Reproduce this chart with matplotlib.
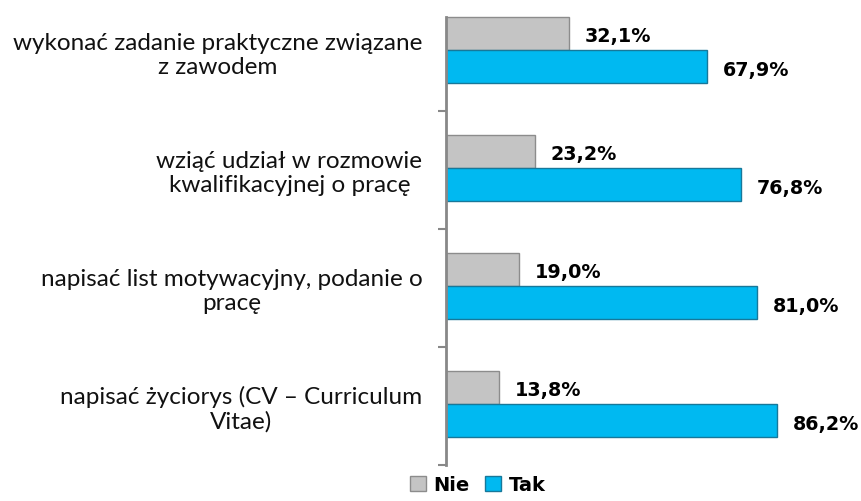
import matplotlib.pyplot as plt
import numpy as np

kategorie = [
    "wykonać zadanie praktyczne związane\nz zawodem",
    "wziąć udział w rozmowie\nkwalifikacyjnej o pracę",
    "napisać list motywacyjny, podanie o\npracę",
    "napisać życiorys (CV – Curriculum\nVitae)",
]
nie = [32.1, 23.2, 19.0, 13.8]
tak = [67.9, 76.8, 81.0, 86.2]

plt.rcParams['font.family'] = ['Lato', 'DejaVu Sans']

fig = plt.figure(figsize=(8.61, 5.01), dpi=100)
ax = fig.add_axes([446 / 861, 36 / 501, 384 / 861, 472 / 501])

y = np.arange(len(kategorie))
h = 0.28
b1 = ax.barh(y - 0.16, nie, height=h, color='#c4c4c4', edgecolor='#8c8c8c', linewidth=1, label='Nie')
b2 = ax.barh(y + 0.125, tak, height=h, color='#00b9f1', edgecolor='#17789a', linewidth=1, label='Tak')

for yy, v in zip(y, nie):
    ax.text(v + 4.1, yy - 0.13, f"{v:.1f}%".replace('.', ','), va='center', ha='left',
            fontsize=13.8, fontweight='bold', family=['DejaVu Sans'])
for yy, v in zip(y, tak):
    ax.text(v + 4.1, yy + 0.155, f"{v:.1f}%".replace('.', ','), va='center', ha='left',
            fontsize=13.8, fontweight='bold', family=['DejaVu Sans'])

ax.set_xlim(0, 100)
ax.set_ylim(3.5, -0.5)
ax.set_xticks([])
ax.set_yticks(y)
ax.set_yticklabels(kategorie, fontsize=17.5, multialignment='center', color='#111111',
                   linespacing=1.15)
ax.tick_params(axis='y', length=0, pad=17)
ax.set_yticks(np.arange(0.5, 4, 1), minor=True)
ax.tick_params(axis='y', which='minor', length=6, color='#888888', width=1.5, direction='out')
for s in ['top', 'right', 'bottom']:
    ax.spines[s].set_visible(False)
ax.spines['left'].set_color('#888888')
ax.spines['left'].set_linewidth(2)
ax.spines['left'].set_bounds(3.5, -0.3)

leg = fig.legend(handles=[b1, b2], loc='lower center', bbox_to_anchor=(0.555, -0.022), ncol=2,
                 frameon=False, handlelength=0.8, handleheight=0.8, handletextpad=0.4,
                 columnspacing=0.8, prop={'family': 'DejaVu Sans', 'weight': 'bold', 'size': 14})

fig.savefig('out.png', dpi=100)
